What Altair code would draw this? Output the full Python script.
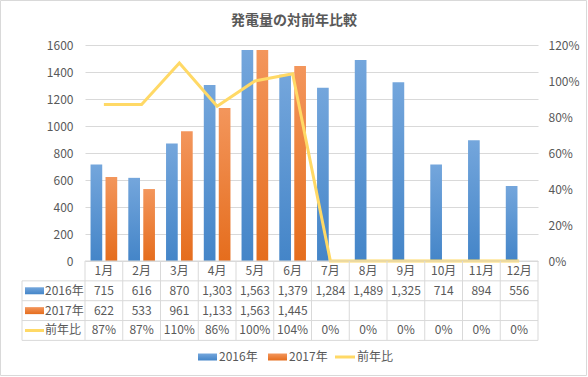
import altair as alt
import pandas as pd

# ---------------- data ----------------
months = ["1月", "2月", "3月", "4月", "5月", "6月", "7月", "8月", "9月", "10月", "11月", "12月"]
gen_2016 = [715, 616, 870, 1303, 1563, 1379, 1284, 1489, 1325, 714, 894, 556]
gen_2017 = [622, 533, 961, 1133, 1563, 1445]
ratio_pct = [87, 87, 110, 86, 100, 104, 0, 0, 0, 0, 0, 0]
series = ["2016年", "2017年", "前年比"]

# ---------------- style ----------------
FONT = "Noto Sans CJK JP"
TXT = "#595959"
GRID = "#d9d9d9"
W, H = 453, 216
PAD = {"left": 85, "top": 45, "right": 50, "bottom": 116}
ROW_H = 19.85
TABLE_TOP = 216


def grad(top, bottom):
    return alt.LinearGradient(
        gradient="linear",
        stops=[alt.GradientStop(color=top, offset=0), alt.GradientStop(color=bottom, offset=1)],
        x1=0, x2=0, y1=0, y2=1,
    )


BLUE = grad("#74a6dc", "#4485c8")
ORANGE = grad("#f3965c", "#e56d1d")
YELLOW = "#ffd966"

# ---------------- frames ----------------
df16 = pd.DataFrame({"month": months, "year": series[0], "value": gen_2016})
df17 = pd.DataFrame({"month": months[: len(gen_2017)], "year": series[1], "value": gen_2017})
line_df = pd.DataFrame({"month": months, "ratio": ratio_pct})

rows = []
for i, m in enumerate(months):
    rows.append({"month": m, "r": 0.5, "label": m})
    rows.append({"month": m, "r": 1.5, "label": f"{gen_2016[i]:,}"})
    if i < len(gen_2017):
        rows.append({"month": m, "r": 2.5, "label": f"{gen_2017[i]:,}"})
    rows.append({"month": m, "r": 3.5, "label": f"{ratio_pct[i]}%"})
table_df = pd.DataFrame(rows)

x_scale = alt.Scale(domain=months, paddingInner=0, paddingOuter=0)
x_enc = alt.X("month:N", scale=x_scale, axis=None)
xoff = alt.XOffset("year:N", scale=alt.Scale(domain=series[:2], paddingInner=0.22, paddingOuter=0.37))

y_left = alt.Y(
    "value:Q",
    scale=alt.Scale(domain=[0, 1600], nice=False),
    axis=alt.Axis(values=list(range(0, 1601, 200)), format="d", grid=True, gridColor=GRID, ticks=False,
                  domain=False, labelColor=TXT, labelFont=FONT, labelFontSize=12,
                  labelPadding=12, title=None),
)

bars16 = alt.Chart(df16).mark_bar(fill=BLUE).encode(x=x_enc, xOffset=xoff, y=y_left)
bars17 = alt.Chart(df17).mark_bar(fill=ORANGE).encode(x=x_enc, xOffset=xoff, y=y_left)
bars = alt.layer(bars16, bars17)

line = alt.Chart(line_df).mark_line(color=YELLOW, strokeWidth=3).encode(
    x=alt.X("month:N", scale=x_scale, axis=None, bandPosition=0.5),
    y=alt.Y(
        "ratio:Q",
        scale=alt.Scale(domain=[0, 120], nice=False),
        axis=alt.Axis(orient="right", values=list(range(0, 121, 20)), labelExpr="datum.value + '%'",
                      grid=False, ticks=False, domain=False, labelColor=TXT, labelFont=FONT,
                      labelFontSize=12, labelPadding=10, title=None),
    ),
)

# ---------------- table ----------------
table_y = alt.Scale(domain=[0, 4], range=[TABLE_TOP, TABLE_TOP + 4 * ROW_H], nice=False, zero=False)

vlines = alt.Chart(pd.DataFrame({"month": months})).transform_calculate(y0="0", y1="4").mark_rule(
    color=GRID, strokeWidth=1
).encode(
    x=alt.X("month:N", scale=x_scale, axis=None, bandPosition=0),
    y=alt.Y("y0:Q", scale=table_y, axis=None),
    y2="y1:Q",
)
vline_end = alt.Chart(pd.DataFrame({"month": months[-1:]})).transform_calculate(y0="0", y1="4").mark_rule(
    color=GRID, strokeWidth=1
).encode(
    x=alt.X("month:N", scale=x_scale, axis=None, bandPosition=1),
    y=alt.Y("y0:Q", scale=table_y, axis=None),
    y2="y1:Q",
)
vline_head = alt.Chart(pd.DataFrame({"y0": [1], "y1": [4]})).mark_rule(color=GRID, strokeWidth=1).encode(
    x=alt.value(-63),
    y=alt.Y("y0:Q", scale=table_y, axis=None),
    y2="y1:Q",
)
hline_top = alt.Chart(pd.DataFrame({"b": [0]})).mark_rule(color=GRID, strokeWidth=1).encode(
    x=alt.value(0), x2=alt.value(W), y=alt.Y("b:Q", scale=table_y, axis=None)
)
hlines = alt.Chart(pd.DataFrame({"b": [1, 2, 3, 4]})).mark_rule(color=GRID, strokeWidth=1).encode(
    x=alt.value(-63), x2=alt.value(W), y=alt.Y("b:Q", scale=table_y, axis=None)
)
cells = alt.Chart(table_df).mark_text(font=FONT, fontSize=12, color=TXT, baseline="middle").encode(
    x=alt.X("month:N", scale=x_scale, axis=None, bandPosition=0.5),
    y=alt.Y("r:Q", scale=table_y, axis=None),
    text="label:N",
)
heads = alt.Chart(pd.DataFrame({"label": series, "r": [1.5, 2.5, 3.5]})).mark_text(
    font=FONT, fontSize=12, color=TXT, baseline="middle", align="left"
).encode(
    x=alt.value(-40),
    y=alt.Y("r:Q", scale=table_y, axis=None),
    text="label:N",
)
table = alt.layer(vlines, vline_end, vline_head, hline_top, hlines, cells, heads)

# ---------------- decorations (swatches, legend, title, border) ----------------
one = pd.DataFrame({"a": [0]})


def rect(x0, x1, y0, y1, fill):
    return alt.Chart(one).mark_rect(fill=fill).encode(
        x=alt.value(x0), x2=alt.value(x1), y=alt.value(y0), y2=alt.value(y1))


def hline(x0, x1, y, color, width):
    return alt.Chart(one).mark_rule(color=color, strokeWidth=width).encode(
        x=alt.value(x0), x2=alt.value(x1), y=alt.value(y))


def label(x, y, text, size=12, weight="normal", align="left"):
    return alt.Chart(one).mark_text(text=text, font=FONT, fontSize=size, fontWeight=weight,
                                    color=TXT, align=align, baseline="middle").encode(
        x=alt.value(x), y=alt.value(y))


r1 = TABLE_TOP + 1.5 * ROW_H
r2 = TABLE_TOP + 2.5 * ROW_H
r3 = TABLE_TOP + 3.5 * ROW_H
LEG_Y = 312

deco = alt.layer(
    # table row-header swatches
    rect(-60, -41, r1 - 3.5, r1 + 3.5, BLUE),
    rect(-60, -41, r2 - 3.5, r2 + 3.5, ORANGE),
    hline(-60, -41, r3, YELLOW, 3),
    # bottom legend
    rect(113, 132, LEG_Y - 3.5, LEG_Y + 3.5, BLUE),
    label(134, LEG_Y, series[0]),
    rect(183, 202, LEG_Y - 3.5, LEG_Y + 3.5, ORANGE),
    label(204, LEG_Y, series[1]),
    hline(250, 270, LEG_Y, YELLOW, 3),
    label(272, LEG_Y, series[2]),
    # title
    label(209, -24, "発電量の対前年比較", size=14, weight="bold", align="center"),
    # outer frame
    alt.Chart(one).mark_rect(fill=None, stroke=GRID, strokeWidth=1).encode(
        x=alt.value(-84.5), x2=alt.value(501.5), y=alt.value(-44.5), y2=alt.value(330.5)),
)

chart = alt.layer(bars, line, table, deco).resolve_scale(y="independent").properties(
    width=W,
    height=H,
    padding=PAD,
    autosize=alt.AutoSizeParams(type="none"),
    background="white",
).configure_view(stroke=None)

chart.save("out.html", embed_options={"renderer": "svg", "actions": False})
